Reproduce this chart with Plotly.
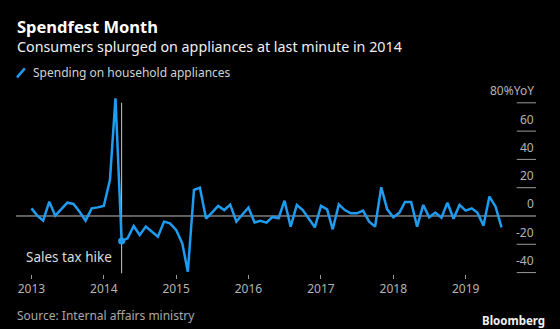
import plotly.graph_objects as go
import pandas as pd

# ---- data ----
start_month = "2013-01-01"
yoy_values = [
    5.4, 0.0, -3.3, 10.1, 0.2, 4.7, 9.4, 8.5, 3.0, -3.3, 5.4, 6.1,      # 2013
    7.1, 25.4, 83.2, -17.7, -15.8, -7.1, -13.4, -7.5, -11.1, -14.6, -4.0, -5.2,  # 2014
    -9.9, -19.3, -39.4, 18.4, 20.0, -1.8, 2.4, 7.1, 4.2, 8.0, -4.0, 0.7,  # 2015
    6.0, -4.6, -3.4, -4.7, -0.7, -1.6, 10.8, -7.5, 7.8, 4.2, -2.4, -8.0,  # 2016
    7.1, 4.7, -9.4, 8.2, 4.2, 1.9, 1.9, 3.8, -4.0, -7.5, 20.3, 4.7,      # 2017
    -0.9, 2.4, 9.9, 9.9, -7.5, 7.8, -0.9, 2.4, -1.2, 9.4, -1.9, 7.8,     # 2018
    3.8, 5.4, 2.4, -6.8, 13.7, 6.6, -8.0,                                  # 2019
]
dates = pd.date_range(start_month, periods=len(yoy_values), freq="MS")

year_ticks = ["2013", "2014", "2015", "2016", "2017", "2018", "2019"]
y_ticks = [80, 60, 40, 20, 0, -20, -40]
y_tick_labels = ["80%YoY", "60", "40", "20", "0", "-20", "-40"]

hike_date = "2014-04-01"
hike_value = -17.7

title = "Spendfest Month"
subtitle = "Consumers splurged on appliances at last minute in 2014"
legend_label = "Spending on household appliances"
source = "Source: Internal affairs ministry"

BLUE = "#1f9cf0"
FONT = "Noto Sans"

fig = go.Figure()
fig.add_trace(go.Scatter(
    x=dates, y=yoy_values, mode="lines",
    line=dict(color=BLUE, width=2.5), hoverinfo="skip", showlegend=False,
))
fig.add_trace(go.Scatter(
    x=[hike_date], y=[hike_value], mode="markers",
    marker=dict(color=BLUE, size=7), showlegend=False, hoverinfo="skip",
))

shapes = []
# zero line
shapes.append(dict(type="line", xref="paper", yref="y", x0=0, x1=1, y0=0, y1=0,
                   line=dict(color="#bdbdbd", width=1), layer="below"))
# short grid segments on right
for v in y_ticks:
    if v == 0:
        continue
    shapes.append(dict(type="line", xref="paper", yref="y", x0=0.963, x1=1.0, y0=v, y1=v,
                       line=dict(color="#9a9a9a", width=1)))
# tax hike vertical line
shapes.append(dict(type="line", xref="x", yref="y", x0=hike_date, x1=hike_date, y0=-40.5, y1=80,
                   line=dict(color="#c8c8c8", width=1), layer="below"))
# legend slash icon
shapes.append(dict(type="line", xref="paper", yref="paper", x0=0.002, x1=0.017, y0=1.111, y1=1.162,
                   line=dict(color=BLUE, width=2.5)))

annotations = []
for v, lab in zip(y_ticks, y_tick_labels):
    annotations.append(dict(x=1.0, xref="paper", y=v, yref="y", text=lab, showarrow=False,
                            xanchor="right", yanchor="middle", yshift=12,
                            font=dict(family=FONT, size=12, color="#b4b4b4")))
annotations.append(dict(x=hike_date, xref="x", y=-29, yref="y", text="Sales tax hike",
                        showarrow=False, xanchor="right", yanchor="middle", xshift=-8,
                        font=dict(family=FONT, size=13.5, color="#dcdcdc")))


def px_x(p):
    return (p - 16) / 520.0


def px_y(p):
    return (274 - p) / 177.0


annotations += [
    dict(x=px_x(15), y=px_y(26.5), xref="paper", yref="paper", text="<b>" + title + "</b>",
         showarrow=False, xanchor="left", yanchor="middle",
         font=dict(family=FONT, size=16.5, color="#ffffff")),
    dict(x=px_x(15), y=px_y(46), xref="paper", yref="paper", text=subtitle,
         showarrow=False, xanchor="left", yanchor="middle",
         font=dict(family=FONT, size=14.3, color="#f0f0f0")),
    dict(x=px_x(31), y=px_y(72), xref="paper", yref="paper", text=legend_label,
         showarrow=False, xanchor="left", yanchor="middle",
         font=dict(family=FONT, size=12, color="#d2d2d2")),
    dict(x=px_x(15), y=px_y(315), xref="paper", yref="paper", text=source,
         showarrow=False, xanchor="left", yanchor="middle",
         font=dict(family=FONT, size=12, color="#a8a8a8")),
    dict(x=px_x(547), y=px_y(320), xref="paper", yref="paper", text="<b>Bloomberg</b>",
         showarrow=False, xanchor="right", yanchor="middle",
         font=dict(family=FONT, size=11.5, color="#f0f0f0")),
]

fig.update_layout(
    width=560, height=329,
    margin=dict(l=16, r=24, t=97, b=55, pad=0),
    paper_bgcolor="#000000", plot_bgcolor="#000000",
    shapes=shapes, annotations=annotations,
    xaxis=dict(
        type="date",
        range=["2012-10-15", "2019-12-22"],
        tickvals=[f"{y}-01-01" for y in year_ticks],
        ticktext=year_ticks,
        ticks="outside", ticklen=4, tickcolor="#9a9a9a", tickwidth=1,
        showgrid=False, zeroline=False, showline=False,
        tickfont=dict(family=FONT, size=12, color="#b4b4b4"),
    ),
    yaxis=dict(
        range=[-41.0, 84.1], showticklabels=False, showgrid=False,
        zeroline=False, showline=False, ticks="",
    ),
    showlegend=False,
)

fig.write_html("out.html")
